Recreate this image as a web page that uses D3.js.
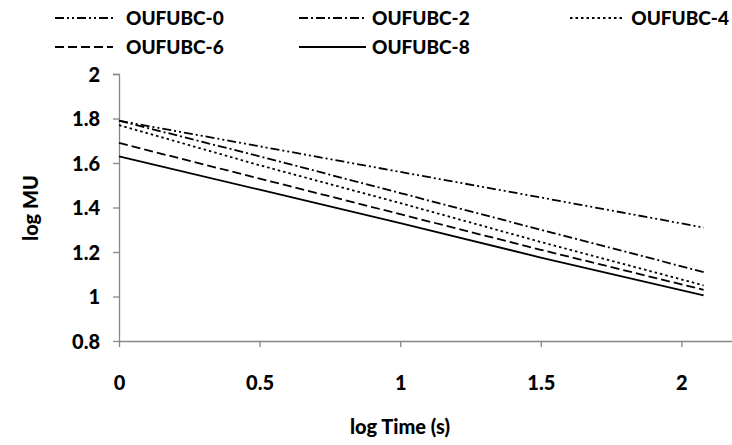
<!DOCTYPE html>
<html><head><meta charset="utf-8">
<script src="https://cdn.jsdelivr.net/npm/d3@7"></script>
<style>
html,body{margin:0;padding:0;background:#fff;}
text{font-family:Lato,"Liberation Sans",Arial,sans-serif;font-weight:bold;fill:#000;}
</style></head>
<body><svg id="c" width="732" height="445"></svg>
<script>
const logTime = [0, 0.5, 1, 1.5, 2.079];
const seriesNames = ["OUFUBC-0","OUFUBC-2","OUFUBC-4","OUFUBC-6","OUFUBC-8"];
const oufubc0 = [1.79, 1.675, 1.56, 1.445, 1.31];
const oufubc2 = [1.79, 1.63, 1.465, 1.30, 1.11];
const oufubc4 = [1.77, 1.59, 1.42, 1.245, 1.05];
const oufubc6 = [1.69, 1.53, 1.37, 1.21, 1.03];
const oufubc8 = [1.63, 1.48, 1.33, 1.175, 1.005];
const xTicks = [0, 0.5, 1, 1.5, 2];
const yTicks = [0.8, 1, 1.2, 1.4, 1.6, 1.8, 2];

const seriesValues = [oufubc0, oufubc2, oufubc4, oufubc6, oufubc8];
const dashes = ["9,3,2,3,2,3", "9,3,2,3", "2.5,3", "9,4", null];
const FS = "20px";

const svg = d3.select("#c");
const x = d3.scaleLinear().domain([0, 2.5]).range([119, 822]);
const y = d3.scaleLinear().domain([0.8, 2]).range([341, 74]);
const axisColor = "#878787";

// y axis
const ya = svg.append("g").attr("transform","translate(119,0)")
  .call(d3.axisLeft(y).tickValues(yTicks).tickSize(6).tickFormat(d=>String(d)));
ya.select(".domain").attr("stroke",axisColor).attr("stroke-width",1.3).attr("d","M-6,74.5H0.5V341");
ya.selectAll(".tick line").attr("stroke",axisColor).attr("stroke-width",1.3);
ya.selectAll(".tick text").attr("x",-19).attr("dy","0.36em").style("font-size",FS);

// x axis
const xa = svg.append("g").attr("transform","translate(0,341)")
  .call(d3.axisBottom(x).tickValues(xTicks).tickSize(6).tickFormat(d=>String(d)));
xa.select(".domain").attr("stroke",axisColor).attr("stroke-width",1.3).attr("d","M119,0.5H732");
xa.selectAll(".tick line").attr("stroke",axisColor).attr("stroke-width",1.3);
xa.selectAll(".tick text").attr("y",35).style("font-size",FS);
svg.selectAll(".tick text").attr("fill","#000").style("font-family","Lato, 'Liberation Sans', sans-serif").style("font-weight","900");

// lines
const line = d3.line().x((d,i)=>x(logTime[i])).y(d=>y(d));
seriesValues.forEach((vals,k)=>{
  svg.append("path").datum(vals).attr("d",line).attr("fill","none")
    .attr("stroke","#000").attr("stroke-width",1.8)
    .attr("stroke-dasharray",dashes[k]);
});

// axis titles
svg.append("text").attr("x",400).attr("y",434).attr("text-anchor","middle")
  .style("font-size",FS).style("font-weight","900").text("log Time (s)");
svg.append("text").attr("transform","translate(38,208) rotate(-90)").attr("text-anchor","middle")
  .style("font-size",FS).style("font-weight","900").text("log MU");

// legend
const legLine = [[55,113,18],[299,366,18],[570,624,18],[55,113,47],[299,366,47]];
const legTextX = [126,372,729,126,372];
seriesNames.forEach((n,k)=>{
  const [x1,x2,ly] = legLine[k];
  svg.append("line").attr("x1",x1).attr("x2",x2).attr("y1",ly).attr("y2",ly)
    .attr("stroke","#000").attr("stroke-width",1.8).attr("stroke-dasharray",dashes[k]);
  svg.append("text").attr("x",legTextX[k]).attr("y",ly).attr("dy","0.36em")
    .attr("text-anchor",k===2?"end":"start")
    .style("font-size","19px").style("font-weight","900").text(n);
});
</script></body></html>
